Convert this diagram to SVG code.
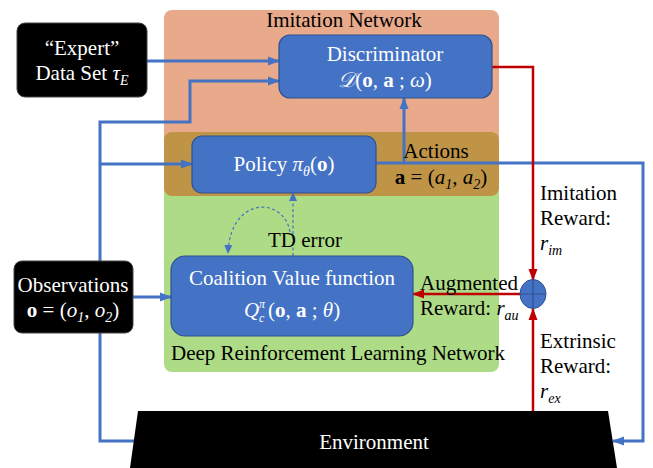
<svg xmlns="http://www.w3.org/2000/svg" width="653" height="468" viewBox="0 0 653 468">
<defs>
<style>
text{font-family:"Liberation Serif","Times New Roman",serif;font-size:21px;fill:#000}
.w{fill:#fff}
.m{font-style:italic}
.b{font-weight:bold;font-style:normal}
.n{font-style:normal}
.s{font-size:14px;font-style:italic}
.box{fill:#4472C4;stroke:#2F528F;stroke-width:1.2}
.blk{fill:#000;stroke:#444;stroke-width:1}
.bl{fill:none;stroke:#4472C4;stroke-width:3}
.rd{fill:none;stroke:#C00000;stroke-width:2.5}
.ds{fill:none;stroke:#4472C4;stroke-width:1.2;stroke-dasharray:3 2.5}
</style>
<marker id="ab" markerUnits="userSpaceOnUse" markerWidth="12" markerHeight="12" refX="11" refY="6" orient="auto"><path d="M0,1.5 L12,6 L0,10.5 Z" fill="#4472C4"/></marker>
<marker id="ar" markerUnits="userSpaceOnUse" markerWidth="12" markerHeight="12" refX="11" refY="6" orient="auto"><path d="M0,1.5 L12,6 L0,10.5 Z" fill="#C00000"/></marker>
<marker id="ad" markerUnits="userSpaceOnUse" markerWidth="9" markerHeight="9" refX="8" refY="4.5" orient="auto"><path d="M0,0.5 L9,4.5 L0,8.5 Z" fill="#4472C4"/></marker>
</defs>

<g id="panels">
<rect id="imitation-panel" x="164" y="10" width="335" height="140" rx="8" fill="#E8AA8B"/>
<rect id="drl-panel" x="164" y="180" width="335" height="192" rx="8" fill="#AEDC86"/>
<rect id="actions-band" x="164" y="132" width="335" height="64" rx="8" fill="#BF9447"/>
<text x="344" y="27" text-anchor="middle">Imitation Network</text>
<text x="171" y="360">Deep Reinforcement Learning Network</text>
</g>

<g id="connectors">
<path class="bl" d="M147 61 H279" marker-end="url(#ab)"/>
<path class="bl" d="M136 441 H100 V122 H190 V81 H279" marker-end="url(#ab)"/>
<path class="bl" d="M100 164 H192" marker-end="url(#ab)"/>
<path class="bl" d="M133 297 H171" marker-end="url(#ab)"/>
<path class="bl" d="M376 163 H643 V441 H613" marker-end="url(#ab)"/>
<path class="bl" d="M404 163 V98" marker-end="url(#ab)"/>
<path class="rd" d="M492 67 H533 V280" marker-end="url(#ar)"/>
<path class="rd" d="M533 411 V309" marker-end="url(#ar)"/>
<path class="rd" d="M520 294 H413" marker-end="url(#ar)"/>
<path class="ds" d="M293 256 V193" marker-end="url(#ad)"/>
<path class="ds" d="M290 232 C284 196, 230 196, 228 253" marker-end="url(#ad)"/>
</g>

<g id="expert">
<rect class="blk" x="17" y="23" width="130" height="74" rx="8"/>
<text class="w" x="82" y="55" text-anchor="middle">“Expert”</text>
<text class="w" x="82" y="80" text-anchor="middle">Data Set <tspan class="m">τ</tspan><tspan class="s" dy="5">E</tspan></text>
</g>

<g id="discriminator">
<rect class="box" x="279" y="35" width="213" height="63" rx="11"/>
<text class="w" x="385" y="61" text-anchor="middle">Discriminator</text>
<text class="w" x="385" y="87" text-anchor="middle"><tspan font-family="DejaVu Serif" font-style="italic">𝒟</tspan>(<tspan class="b">o</tspan>, <tspan class="b">a</tspan> ; <tspan class="m">ω</tspan>)</text>
</g>

<g id="policy">
<rect class="box" x="192" y="136" width="184" height="57" rx="10"/>
<text class="w" x="284" y="171" text-anchor="middle">Policy <tspan class="m">π</tspan><tspan class="s" dy="5">θ</tspan><tspan dy="-5">(</tspan><tspan class="b">o</tspan>)</text>
</g>

<g id="actions-label">
<text x="436" y="158" text-anchor="middle">Actions</text>
<text x="441" y="184" text-anchor="middle"><tspan class="b">a</tspan> = (<tspan class="m">a</tspan><tspan class="s" font-style="normal" dy="5">1</tspan><tspan dy="-5">, </tspan><tspan class="m">a</tspan><tspan class="s" font-style="normal" dy="5">2</tspan><tspan dy="-5">)</tspan></text>
</g>

<g id="td-error">
<text x="268" y="247">TD error</text>
</g>

<g id="observations">
<rect class="blk" x="14" y="261" width="119" height="72" rx="8"/>
<text class="w" x="73" y="292" text-anchor="middle">Observations</text>
<text class="w" x="73" y="317" text-anchor="middle"><tspan class="b">o</tspan> = (<tspan class="m">o</tspan><tspan class="s" font-style="normal" dy="5">1</tspan><tspan dy="-5">, </tspan><tspan class="m">o</tspan><tspan class="s" font-style="normal" dy="5">2</tspan><tspan dy="-5">)</tspan></text>
</g>

<g id="coalition">
<rect class="box" x="171" y="256" width="242" height="80" rx="14"/>
<text class="w" x="292" y="285" text-anchor="middle">Coalition Value function</text>
<text class="w" x="244" y="317" font-style="italic">Q<tspan font-size="12" x="259" y="322">c</tspan><tspan font-size="12" x="259" y="308">π</tspan><tspan class="n" x="268" y="317">(</tspan><tspan class="b">o</tspan><tspan class="n">, </tspan><tspan class="b">a</tspan><tspan class="n"> ; </tspan>θ<tspan class="n">)</tspan></text>
</g>

<g id="sum-node">
<ellipse cx="533" cy="294" rx="13" ry="14.5" fill="#4472C4" stroke="#2F528F" stroke-width="1"/>
<path d="M520 294 H546 M533 279.5 V308.5" stroke="#2F528F" stroke-width="1.2"/>
</g>

<g id="reward-labels">
<text x="540" y="200">Imitation</text>
<text x="540" y="225">Reward:</text>
<text x="540" y="250"><tspan class="m">r</tspan><tspan class="s" dy="5">im</tspan></text>
<text x="420" y="290">Augmented</text>
<text x="420" y="315">Reward: <tspan class="m">r</tspan><tspan class="s" dy="5">au</tspan></text>
<text x="540" y="348">Extrinsic</text>
<text x="540" y="373">Reward:</text>
<text x="540" y="398"><tspan class="m">r</tspan><tspan class="s" dy="5">ex</tspan></text>
</g>

<g id="environment">
<polygon points="138,411 608,411 617,468 130,468" fill="#000"/>
<text class="w" x="374" y="449" text-anchor="middle">Environment</text>
</g>
</svg>
